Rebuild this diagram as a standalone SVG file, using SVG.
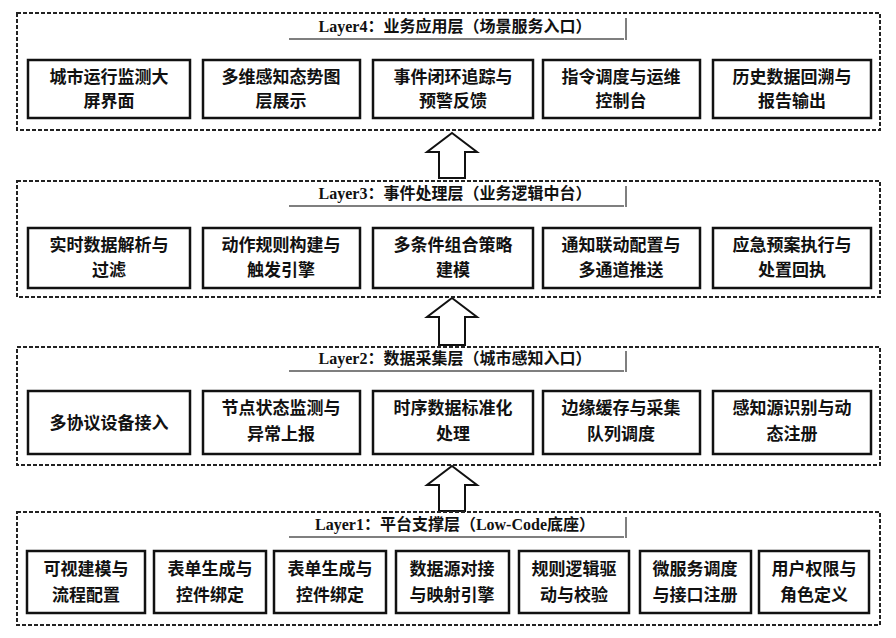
<svg xmlns="http://www.w3.org/2000/svg" width="896" height="638" viewBox="0 0 896 638">
<style>
.layer{fill:none;stroke:#222;stroke-width:2;stroke-dasharray:4 2}
.box{fill:#fff;stroke:#111;stroke-width:2.5}
.t{font-family:"Noto Sans CJK SC","Liberation Sans",sans-serif;font-size:17px;font-weight:bold;fill:#111;text-anchor:middle}
.h{font-family:"Liberation Serif","Noto Sans CJK SC",serif;font-size:16px;font-weight:bold;fill:#111;text-anchor:middle}
.ul{stroke:#555;stroke-width:1.5}
.arr{fill:#fff;stroke:#111;stroke-width:2}
</style>
<rect width="896" height="638" fill="#fff"/>
<g id="connectors">
<path class="arr" d="M452,133 L477,152 L465,152 L465,178 L439,178 L439,152 L427,152 Z"/>
<path class="arr" d="M452,298 L477,317 L465,317 L465,345 L439,345 L439,317 L427,317 Z"/>
<path class="arr" d="M452,466 L477,485 L465,485 L465,511 L439,511 L439,485 L427,485 Z"/>
</g>
<g id="layer4">
<rect class="layer" x="17" y="13" width="863" height="117"/>
<text class="h" x="455" y="32">Layer4：业务应用层（场景服务入口）</text>
<line class="ul" x1="289" y1="39" x2="624" y2="39"/><line class="ul" x1="626" y1="18" x2="626" y2="40"/>
<g id="n4a"><rect class="box" x="28" y="60" width="162" height="58"/><text class="t" x="109" y="83">城市运行监测大</text><text class="t" x="109" y="107">屏界面</text></g>
<g id="n4b"><rect class="box" x="203" y="60" width="157" height="58"/><text class="t" x="281" y="83">多维感知态势图</text><text class="t" x="281" y="107">层展示</text></g>
<g id="n4c"><rect class="box" x="373" y="60" width="160" height="58"/><text class="t" x="453" y="83">事件闭环追踪与</text><text class="t" x="453" y="107">预警反馈</text></g>
<g id="n4d"><rect class="box" x="543" y="60" width="157" height="58"/><text class="t" x="621" y="83">指令调度与运维</text><text class="t" x="621" y="107">控制台</text></g>
<g id="n4e"><rect class="box" x="713" y="60" width="158" height="58"/><text class="t" x="792" y="83">历史数据回溯与</text><text class="t" x="792" y="107">报告输出</text></g>
</g>
<g id="layer3">
<rect class="layer" x="17" y="181" width="863" height="116"/>
<text class="h" x="455" y="199">Layer3：事件处理层（业务逻辑中台）</text>
<line class="ul" x1="289" y1="206" x2="624" y2="206"/><line class="ul" x1="626" y1="186" x2="626" y2="207"/>
<g id="n3a"><rect class="box" x="28" y="228" width="162" height="60"/><text class="t" x="109" y="251">实时数据解析与</text><text class="t" x="109" y="276">过滤</text></g>
<g id="n3b"><rect class="box" x="203" y="228" width="157" height="60"/><text class="t" x="281" y="251">动作规则构建与</text><text class="t" x="281" y="276">触发引擎</text></g>
<g id="n3c"><rect class="box" x="373" y="228" width="160" height="60"/><text class="t" x="453" y="251">多条件组合策略</text><text class="t" x="453" y="276">建模</text></g>
<g id="n3d"><rect class="box" x="543" y="228" width="157" height="60"/><text class="t" x="621" y="251">通知联动配置与</text><text class="t" x="621" y="276">多通道推送</text></g>
<g id="n3e"><rect class="box" x="713" y="228" width="158" height="60"/><text class="t" x="792" y="251">应急预案执行与</text><text class="t" x="792" y="276">处置回执</text></g>
</g>
<g id="layer2">
<rect class="layer" x="17" y="347" width="863" height="118"/>
<text class="h" x="455" y="364">Layer2：数据采集层（城市感知入口）</text>
<line class="ul" x1="289" y1="371" x2="624" y2="371"/><line class="ul" x1="626" y1="351" x2="626" y2="372"/>
<g id="n2a"><rect class="box" x="28" y="391" width="162" height="63"/><text class="t" x="109" y="429">多协议设备接入</text></g>
<g id="n2b"><rect class="box" x="203" y="391" width="157" height="63"/><text class="t" x="281" y="414">节点状态监测与</text><text class="t" x="281" y="440">异常上报</text></g>
<g id="n2c"><rect class="box" x="373" y="391" width="160" height="63"/><text class="t" x="453" y="414">时序数据标准化</text><text class="t" x="453" y="440">处理</text></g>
<g id="n2d"><rect class="box" x="543" y="391" width="157" height="63"/><text class="t" x="621" y="414">边缘缓存与采集</text><text class="t" x="621" y="440">队列调度</text></g>
<g id="n2e"><rect class="box" x="713" y="391" width="158" height="63"/><text class="t" x="792" y="414">感知源识别与动</text><text class="t" x="792" y="440">态注册</text></g>
</g>
<g id="layer1">
<rect class="layer" x="17" y="512" width="863" height="113"/>
<text class="h" x="455" y="530">Layer1：平台支撑层（Low-Code底座）</text>
<line class="ul" x1="289" y1="537" x2="624" y2="537"/><line class="ul" x1="626" y1="517" x2="626" y2="538"/>
<g id="n1a"><rect class="box" x="27" y="551" width="118" height="62"/><text class="t" x="86" y="575">可视建模与</text><text class="t" x="86" y="601">流程配置</text></g>
<g id="n1b"><rect class="box" x="154" y="551" width="112" height="62"/><text class="t" x="210" y="575">表单生成与</text><text class="t" x="210" y="601">控件绑定</text></g>
<g id="n1c"><rect class="box" x="274" y="551" width="112" height="62"/><text class="t" x="330" y="575">表单生成与</text><text class="t" x="330" y="601">控件绑定</text></g>
<g id="n1d"><rect class="box" x="396" y="551" width="113" height="62"/><text class="t" x="452" y="575">数据源对接</text><text class="t" x="452" y="601">与映射引擎</text></g>
<g id="n1e"><rect class="box" x="519" y="551" width="110" height="62"/><text class="t" x="574" y="575">规则逻辑驱</text><text class="t" x="574" y="601">动与校验</text></g>
<g id="n1f"><rect class="box" x="640" y="551" width="111" height="62"/><text class="t" x="695" y="575">微服务调度</text><text class="t" x="695" y="601">与接口注册</text></g>
<g id="n1g"><rect class="box" x="759" y="551" width="110" height="62"/><text class="t" x="814" y="575">用户权限与</text><text class="t" x="814" y="601">角色定义</text></g>
</g>
</svg>
